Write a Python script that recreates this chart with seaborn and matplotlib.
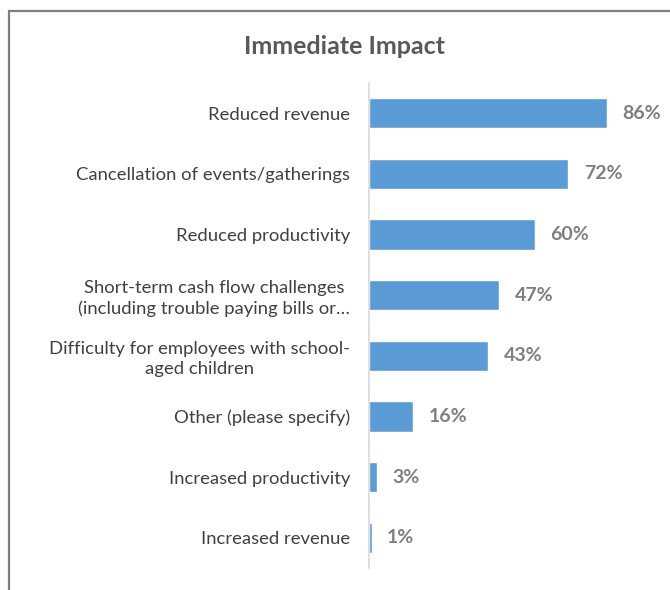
import matplotlib
matplotlib.use("Agg")
import matplotlib.pyplot as plt
import seaborn as sns
import pandas as pd
from matplotlib.patches import Rectangle

categories = [
    "Reduced revenue",
    "Cancellation of events/gatherings",
    "Reduced productivity",
    "Short-term cash flow challenges\n(including trouble paying bills or\u2026",
    "Difficulty for employees with school-\naged children",
    "Other (please specify)",
    "Increased productivity",
    "Increased revenue",
]
values = [86, 72, 60, 47, 43, 16, 3, 1]
value_labels = ["86%", "72%", "60%", "47%", "43%", "16%", "3%", "1%"]

df = pd.DataFrame({"category": categories, "value": values})

sns.set_theme(style="white")
plt.rcParams["font.family"] = ["Lato", "DejaVu Sans"]

fig = plt.figure(figsize=(6.7, 5.9), dpi=100)
ax = fig.add_axes([369 / 670, 1 - 568 / 590, 277 / 670, 485 / 590])

sns.barplot(data=df, x="value", y="category", orient="h", color="#5B9BD5",
            saturation=1, width=0.5, ax=ax)

ax.set_xlim(0, 100)
ax.set_xlabel("")
ax.set_ylabel("")
ax.set_xticks([])
for side in ["top", "right", "bottom"]:
    ax.spines[side].set_visible(False)
ax.spines["left"].set_color("#D9D9D9")
ax.spines["left"].set_linewidth(1.2)

ax.tick_params(axis="y", length=0, pad=13.5)
for lbl in ax.get_yticklabels():
    lbl.set_fontsize(13.3)
    lbl.set_color("#404040")
    lbl.set_multialignment("center")
    lbl.set_linespacing(1.3)

for i, (v, t) in enumerate(zip(values, value_labels)):
    ax.annotate(t, xy=(v, i), xytext=(11, 0), textcoords="offset points",
                ha="left", va="center", fontsize=14, fontweight="bold",
                color="#7F7F7F")

fig.text(344 / 670, 1 - 47 / 590, "Immediate Impact", ha="center", va="center",
         fontsize=18, fontweight="bold", color="#595959")

# chart frame
fig.patches.append(Rectangle((8.5 / 670, -0.1), 1.2, 1 - 10.5 / 590 + 0.1,
                             transform=fig.transFigure, fill=False,
                             edgecolor="#7F7F7F", linewidth=1.6))

fig.savefig("out.png", dpi=100)
